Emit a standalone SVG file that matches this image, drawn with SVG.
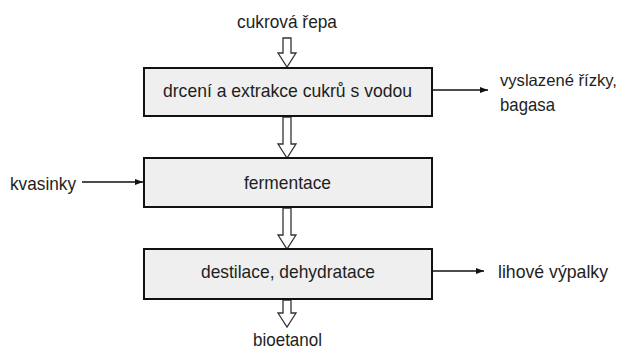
<svg xmlns="http://www.w3.org/2000/svg" width="624" height="350" viewBox="0 0 624 350">
<style>
text{font-family:"Liberation Sans",Arial,sans-serif;font-size:19px;fill:#1e1e1e}
.box{fill:#efefef;stroke:#111;stroke-width:2}
.hollow{fill:#fff;stroke:#333;stroke-width:1.3}
.line{stroke:#111;stroke-width:1.5;fill:none}
</style>
<defs>
<marker id="ah" markerWidth="8" markerHeight="6" refX="8" refY="3" orient="auto" markerUnits="userSpaceOnUse">
<path d="M0,0 L8,3 L0,6 Z" fill="#111"/>
</marker>
</defs>
<rect width="624" height="350" fill="#fff"/>
<g id="connectors">
<path class="hollow" d="M283,38 H291 V53 H296 L287,67 L278,53 H283 Z"/>
<path class="hollow" d="M283,117 H291 V144 H296 L287,158 L278,144 H283 Z"/>
<path class="hollow" d="M283,208 H291 V235 H296 L287,249 L278,235 H283 Z"/>
<path class="hollow" d="M283,300 H291 V313 H296 L287,327 L278,313 H283 Z"/>
<line class="line" x1="432" y1="90" x2="488" y2="90" marker-end="url(#ah)"/>
<line class="line" x1="82" y1="182" x2="143" y2="182" marker-end="url(#ah)"/>
<line class="line" x1="432" y1="271" x2="484" y2="271" marker-end="url(#ah)"/>
</g>
<g id="n_input"><text x="237" y="28" textLength="100" lengthAdjust="spacingAndGlyphs">cukrová řepa</text></g>
<g id="n_drceni"><rect class="box" x="144" y="68" width="288" height="48"/><text x="163" y="97" textLength="249" lengthAdjust="spacingAndGlyphs">drcení a extrakce cukrů s vodou</text></g>
<g id="n_fermentace"><rect class="box" x="144" y="158" width="288" height="49"/><text x="244" y="189" textLength="87" lengthAdjust="spacingAndGlyphs">fermentace</text></g>
<g id="n_destilace"><rect class="box" x="144" y="249" width="288" height="50"/><text x="201" y="278" textLength="174" lengthAdjust="spacingAndGlyphs">destilace, dehydratace</text></g>
<g id="n_kvasinky"><text x="10" y="190" textLength="66" lengthAdjust="spacingAndGlyphs">kvasinky</text></g>
<g id="n_rizky"><text x="500" y="86" style="font-size:16.5px" textLength="117" lengthAdjust="spacingAndGlyphs">vyslazené řízky,</text><text x="500" y="111" textLength="55" lengthAdjust="spacingAndGlyphs">bagasa</text></g>
<g id="n_vypalky"><text x="498" y="278" textLength="110" lengthAdjust="spacingAndGlyphs">lihové výpalky</text></g>
<g id="n_bioetanol"><text x="253" y="346" textLength="69" lengthAdjust="spacingAndGlyphs">bioetanol</text></g>
</svg>
